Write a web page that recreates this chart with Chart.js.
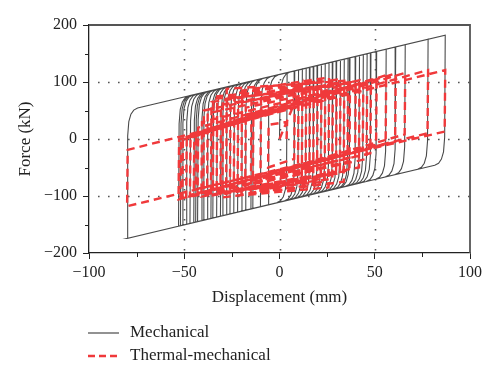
<!DOCTYPE html>
<html>
<head>
<meta charset="utf-8">
<script src="https://cdn.jsdelivr.net/npm/chart.js@4.4.1/dist/chart.umd.min.js"></script>
<style>
    html, body { margin: 0; padding: 0; background: #fff; }
</style>
</head>
<body>
<canvas id="myChart" width="500" height="379"></canvas>
<script>
// Displacement at each load reversal (mm), shared by both analyses
const dispPeaks = [12, -10, 18, -15, 22, -20, 26, -24, 30, -28,
    34, -31, 37, -35, 40, -38, 42, -41, 44, -43,
    46, -45, 48, -47, 51, -49, 56, -51, 61, -52,
    66, -53, 78, -80, 87,
    -44, 36, -40, 32, -36, 28, -33, 24, -30, 20,
    -26, 16, -22, 14, -18, 10, -14, 8, -6, 4];

// Mechanical: post-yield branches (end points)
const mechUpperX = [-78.7, 87.0];
const mechUpperF = [51, 182];
const mechLowerX = [-80.8, 85.4];
const mechLowerF = [-175, -43];

// Thermal-mechanical: force at each reversal and after the elastic unloading
const thermPeakF = [96, -90, 100, -95, 104, -98, 108, -100, 104, -96,
    102, -103, 99, -99, 101, -97, 103, -101, 98, -95,
    100, -100, 104, -98, 106, -102, 112, -104, 115, -105,
    116, -106, 121, -118, 121,
    -88, 98, -96, 100, -98, 96, -95, 92, -93, 90,
    -90, 86, -88, 80, -82, 75, -78, 60, -50, 30];
const thermCornerF = [-75, 70, -80, 75, -70, 85, -85, 80, -60, 88,
    -75, 60, -55, 70, -30, 45, -50, 30, -20, 20,
    -35, 10, -25, 5, -10, 0, -8, 2, -5, -2,
    8, -1, 10, -19, 13,
    10, -40, 50, -60, 65, -70, 75, -75, 70, -70,
    72, -65, 65, -60, 55, -50, 45, -35, 25, 0];

const xTicks = [-100, -50, 0, 50, 100];
const yTicks = [-200, -100, 0, 100, 200];
const xMinor = [-75, -25, 25, 75];
const yMinor = [-150, -50, 50, 150];
const xGrid = [-50, 0, 50];
const yGrid = [-100, 0, 100];
const seriesNames = ['Mechanical', 'Thermal-mechanical'];

const serif = '"Liberation Serif", "DejaVu Serif", serif';
const grayColor = '#4a4a4a';
const redColor = '#f0393b';

function lineAt(xs, fs, x) {
    return fs[0] + (fs[1] - fs[0]) * (x - xs[0]) / (xs[1] - xs[0]);
}
const up = x => lineAt(mechUpperX, mechUpperF, x);
const low = x => lineAt(mechLowerX, mechLowerF, x);

// offsets used to round the knee where the elastic branch meets the post-yield one
const kneeDx = [0.3, 0.9, 2.0, 3.5, 5.5];
const kneeDf = [45, 20, 8, 2, 0];

function mechPath() {
    const pts = [{x: 0, y: 0}];
    kneeDx.forEach((dx, k) => pts.push({x: dx, y: up(dx) - kneeDf[k]}));
    dispPeaks.forEach(d => {
        if (d > 0) {
            pts.push({x: d, y: up(d)});
            kneeDx.forEach((dx, k) => pts.push({x: d - dx, y: low(d - dx) + kneeDf[k]}));
        } else {
            pts.push({x: d, y: low(d)});
            kneeDx.forEach((dx, k) => pts.push({x: d + dx, y: up(d + dx) - kneeDf[k]}));
        }
    });
    return pts;
}

function thermPath() {
    const pts = [{x: 0, y: 0}];
    dispPeaks.forEach((d, i) => {
        pts.push({x: d, y: thermPeakF[i]});
        pts.push({x: d > 0 ? d - 0.3 : d + 0.3, y: thermCornerF[i]});
    });
    return pts;
}

const minus = v => String(v).replace('-', '\u2212');

// dotted grid, frame, minor ticks and the legend under the plot
const framePlugin = {
    id: 'frame',
    beforeDatasetsDraw(chart) {
        const {ctx, chartArea: a, scales: {x, y}} = chart;
        ctx.save();
        ctx.strokeStyle = '#555';
        ctx.lineWidth = 1.6;
        ctx.setLineDash([1.6, 8.4]);
        yGrid.forEach(v => {
            const py = Math.round(y.getPixelForValue(v)) + 0.5;
            ctx.beginPath();
            ctx.moveTo(a.left + 9, py);
            ctx.lineTo(a.right, py);
            ctx.stroke();
        });
        xGrid.forEach(v => {
            const px = Math.round(x.getPixelForValue(v)) + 0.5;
            ctx.beginPath();
            ctx.moveTo(px, a.top + 4);
            ctx.lineTo(px, a.bottom);
            ctx.stroke();
        });
        ctx.restore();
    },
    afterDatasetsDraw(chart) {
        const {ctx, chartArea: a, scales: {x, y}} = chart;
        ctx.save();
        ctx.strokeStyle = '#555';
        ctx.lineWidth = 1.8;
        ctx.beginPath();
        ctx.moveTo(a.left, a.top);
        ctx.lineTo(a.right, a.top);
        ctx.lineTo(a.right, a.bottom);
        ctx.stroke();
        ctx.strokeStyle = '#222';
        ctx.lineWidth = 1;
        xMinor.forEach(v => {
            const px = Math.round(x.getPixelForValue(v)) + 0.5;
            ctx.beginPath();
            ctx.moveTo(px, a.bottom);
            ctx.lineTo(px, a.bottom + 4);
            ctx.stroke();
        });
        yMinor.forEach(v => {
            const py = Math.round(y.getPixelForValue(v)) + 0.5;
            ctx.beginPath();
            ctx.moveTo(a.left - 4, py);
            ctx.lineTo(a.left, py);
            ctx.stroke();
        });
        ctx.restore();
    },
    afterDraw(chart) {
        const ctx = chart.ctx;
        ctx.save();
        ctx.font = '17px ' + serif;
        ctx.fillStyle = '#222';
        ctx.textBaseline = 'middle';
        ctx.strokeStyle = grayColor;
        ctx.lineWidth = 1.2;
        ctx.beginPath();
        ctx.moveTo(88, 333);
        ctx.lineTo(119, 333);
        ctx.stroke();
        ctx.fillText(seriesNames[0], 130, 333);
        ctx.strokeStyle = redColor;
        ctx.lineWidth = 2.5;
        ctx.setLineDash([7, 4]);
        ctx.beginPath();
        ctx.moveTo(88, 356);
        ctx.lineTo(119, 356);
        ctx.stroke();
        ctx.fillText(seriesNames[1], 130, 356);
        ctx.restore();
    }
};

function createHysteresisChart() {
    const ctx = document.getElementById('myChart');
    new Chart(ctx, {
        type: 'scatter',
        data: {
            datasets: [{
                label: seriesNames[1],
                data: thermPath(),
                showLine: true,
                borderColor: redColor,
                borderWidth: 2.4,
                borderDash: [8, 5],
                pointRadius: 0,
                tension: 0
            }, {
                label: seriesNames[0],
                data: mechPath(),
                showLine: true,
                borderColor: grayColor,
                borderWidth: 1.1,
                pointRadius: 0,
                tension: 0
            }]
        },
        options: {
            responsive: false,
            animation: false,
            devicePixelRatio: 1,
            layout: { padding: { top: 25, right: 30, left: 0, bottom: 0 } },
            plugins: { legend: { display: false }, tooltip: { enabled: false } },
            scales: {
                x: {
                    type: 'linear',
                    min: -100,
                    max: 100,
                    afterBuildTicks: s => { s.ticks = xTicks.map(v => ({value: v})); },
                    afterFit: s => { s.height = 126; },
                    ticks: { callback: minus, font: { family: serif, size: 16 }, color: '#222', padding: 4, maxRotation: 0 },
                    grid: { drawOnChartArea: false, tickLength: 6, color: '#222' },
                    border: { color: '#222', width: 1.3 },
                    title: { display: true, text: 'Displacement (mm)', font: { family: serif, size: 17 }, color: '#222', padding: { top: 0, bottom: 71 } }
                },
                y: {
                    type: 'linear',
                    min: -200,
                    max: 200,
                    afterBuildTicks: s => { s.ticks = yTicks.map(v => ({value: v})); },
                    afterFit: s => { s.width = 89; },
                    ticks: { callback: minus, font: { family: serif, size: 16 }, color: '#222', padding: 6 },
                    grid: { drawOnChartArea: false, tickLength: 6, color: '#222' },
                    border: { color: '#222', width: 1.3 },
                    title: { display: true, text: 'Force (kN)', font: { family: serif, size: 17 }, color: '#222', padding: { top: 15, bottom: 0 } }
                }
            }
        },
        plugins: [framePlugin]
    });
}

document.addEventListener("DOMContentLoaded", function () {
    createHysteresisChart();
});
</script>
</body>
</html>
